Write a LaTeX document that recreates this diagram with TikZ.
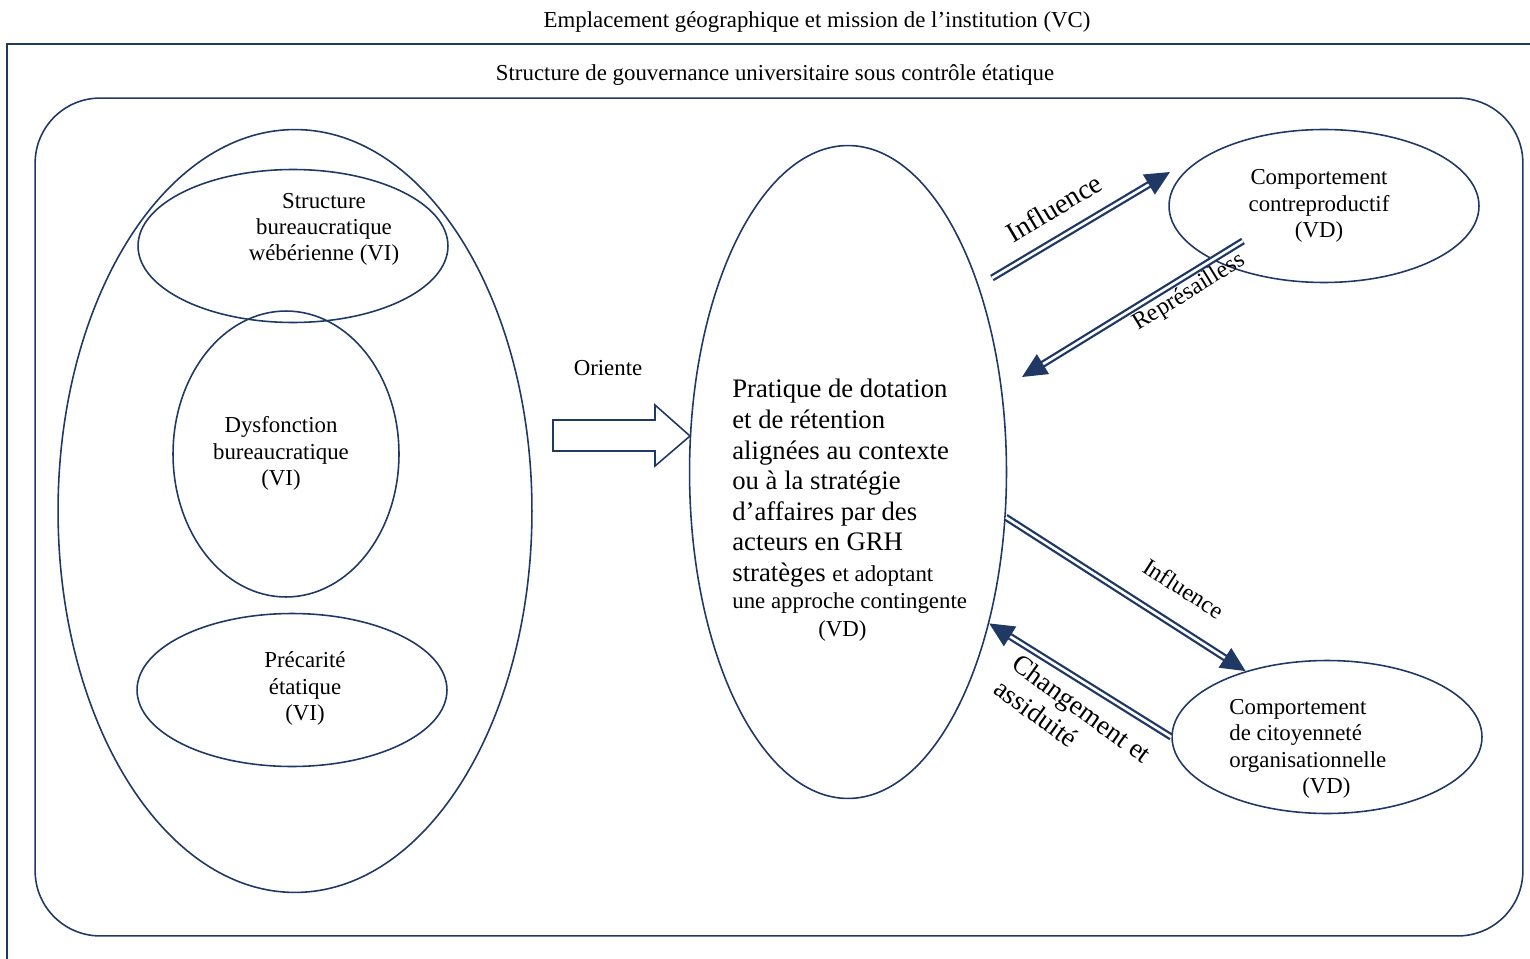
\documentclass[tikz,border=0pt]{standalone}
\usepackage{fontspec}
\setmainfont{Liberation Serif}
\usetikzlibrary{positioning,arrows.meta,shapes.geometric,calc}
\definecolor{navy}{RGB}{31,56,100}

\begin{document}
\begin{tikzpicture}[x=0.02cm,y=-0.02cm,
  ell/.style={draw=navy, line width=0.9pt, ellipse, inner sep=0pt},
  txt/.style={font=\fontsize{13}{15}\selectfont, align=center, inner sep=0pt},
  dbl/.style={draw=navy, line width=1.3pt, double=white, double distance=1.5pt, -{Triangle[length=14pt,width=13pt]}},
  lbl/.style={sloped, inner sep=0pt}]

\useasboundingbox (0,0) rectangle (1530,959);

% frame and titles
\draw[navy, line width=0.7pt] (1530,44) -- (7,44) -- (7,959);
\node[txt] (vc) at (817,22) {Emplacement géographique et mission de l’institution (VC)};
\node[txt] (gouvt) at (775,75.5) {Structure de gouvernance universitaire sous contrôle étatique};
\node[draw=navy, line width=0.9pt, rounded corners=1.3cm, minimum width=29.76cm, minimum height=16.76cm] (gouv) at (779,517) {};

% independent variables
\node[ell, minimum width=9.48cm, minimum height=15.26cm] (vi) at (295,511) {};
\node[ell, minimum width=6.2cm, minimum height=3.06cm] (weber) at (293,246) {};
\node[ell, minimum width=4.52cm, minimum height=5.72cm] (dysf) at (286,454) {};
\node[ell, minimum width=6.2cm, minimum height=3.06cm] (prec) at (292,690) {};
\node[txt] (webert) at (324,229.5) {Structure\\bureaucratique\\wébérienne (VI)};
\node[txt] (dysft) at (281,453.5) {Dysfonction\\bureaucratique\\(VI)};
\node[txt] (prect) at (305,688.5) {Précarité\\étatique\\(VI)};

% block arrow
\node[txt] (oriente) at (608,368) {Oriente};
\draw[navy, line width=0.9pt] (553,420) -- (655,420) -- (655,405) -- (690,436) -- (655,466) -- (655,451) -- (553,451) -- cycle;

% dependent variables
\node[ell, minimum width=6.34cm, minimum height=13.06cm] (centre) at (848,472) {};
\node[txt, align=left, anchor=north west, font=\fontsize{15.2}{17.4}\selectfont] (centret) at (732,379)
  {Pratique de dotation\\et de rétention\\alignées au contexte\\ou à la stratégie\\d’affaires par des\\acteurs en GRH\\
   stratèges {\fontsize{13}{15}\selectfont et adoptant}\\[-1.7pt]
   {\fontsize{13}{15}\selectfont une approche contingente}\\[-1.7pt]
   {\fontsize{13}{15}\selectfont\hspace*{1.72cm}(VD)}};
\node[ell, minimum width=6.2cm, minimum height=3.06cm] (contre) at (1324,206) {};
\node[txt] (contret) at (1319,206) {Comportement\\contreproductif\\(VD)};
\node[ell, minimum width=6.2cm, minimum height=3.06cm] (citoy) at (1327,737) {};
\node[txt, align=left, anchor=west] (citoyt) at (1229,749) {Comportement\\de citoyenneté\\organisationnelle\\\hspace*{1.46cm}(VD)};

% links
\coordinate (inf1a) at (992,278);
\coordinate (inf1b) at (1170,172);
\coordinate (rep1a) at (1243,241);
\coordinate (rep1b) at (1022,377);
\draw[dbl] (inf1a) -- node[lbl, above=10pt, pos=0.43, font=\fontsize{16}{18}\selectfont] {Influence} (inf1b);
\draw[dbl] (rep1a) -- node[lbl, below=2pt, pos=0.28, font=\fontsize{13.7}{16}\selectfont] {Représailless} (rep1b);
\draw[dbl] (centre.-16.5) -- node[lbl, above=15pt, pos=0.66, font=\fontsize{13.6}{16}\selectfont] {Influence} (citoy.141);
\draw[dbl] (citoy.west) -- node[lbl, below=7pt, pos=0.42, rotate=-4, align=left, font=\fontsize{15.5}{17.5}\selectfont] {Changement et\\assiduité} (centre.-47.6);

\end{tikzpicture}
\end{document}
